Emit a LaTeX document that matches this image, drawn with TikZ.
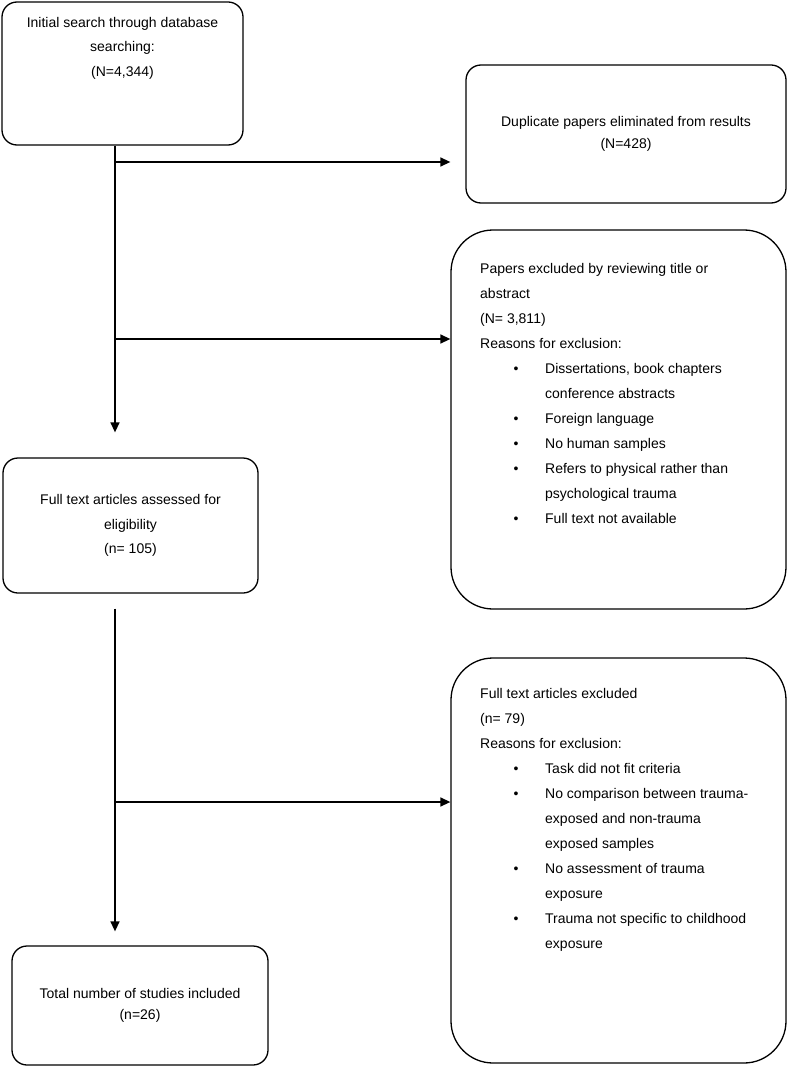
\documentclass[tikz,border=0pt]{standalone}
\usepackage{fontspec}
\setmainfont{Liberation Sans}
\usetikzlibrary{arrows.meta}

% bullet lines inside the exclusion boxes
\newcommand{\bulletline}[1]{\hspace*{33.5pt}\makebox[31.5pt][l]{\textbullet}#1}
\newcommand{\contline}[1]{\hspace*{65pt}#1}

\tikzset{
  flowbox/.style={draw, line width=1.3pt, rounded corners=15pt, inner sep=0pt},
  bigbox/.style={flowbox, rounded corners=42pt},
  flowarrow/.style={line width=1.4pt, -{Triangle[length=10pt,width=9pt]}},
  boxtext/.style={font=\fontsize{14}{24.5}\selectfont, align=center},
  tighttext/.style={font=\fontsize{14}{21.5}\selectfont, align=center},
  listtext/.style={font=\fontsize{14}{25}\selectfont, align=left, inner sep=0pt, anchor=north west}
}

\begin{document}
\begin{tikzpicture}[x=1pt, y=-1pt]

\useasboundingbox (0,0) rectangle (788,1067);

% x position of the main line
\def\trunk{115}
\coordinate (trunkx) at (\trunk,0);

% Left column
\node[flowbox, minimum width=241pt, minimum height=143pt] (init) at (122.5,73.5) {};
\node[boxtext, inner sep=0pt] (inittext) at (122.5,48) {Initial search through database\\searching:\\(N=4,344)};

\node[flowbox, boxtext, minimum width=255pt, minimum height=135pt] (fulltext) at (130.5,525.5)
  {Full text articles assessed for\\eligibility\\(n= 105)};

\node[flowbox, tighttext, minimum width=256pt, minimum height=119pt] (total) at (140,1005.5)
  {Total number of studies included\\(n=26)};

% Right column
\node[flowbox, tighttext, minimum width=320pt, minimum height=138pt] (dup) at (626,134)
  {Duplicate papers eliminated from results\\(N=428)};

\node[bigbox, minimum width=335pt, minimum height=379pt] (papers) at (618.5,419.5) {};
\node[listtext] (paperstext) at (480,263) {Papers excluded by reviewing title or\\abstract\\(N= 3,811)\\Reasons for exclusion:\\
  \bulletline{Dissertations, book chapters}\\\contline{conference abstracts}\\
  \bulletline{Foreign language}\\
  \bulletline{No human samples}\\
  \bulletline{Refers to physical rather than}\\\contline{psychological trauma}\\
  \bulletline{Full text not available}};

\node[bigbox, minimum width=335pt, minimum height=405pt] (excl) at (618.5,860.5) {};
\node[listtext] (excltext) at (480,688) {Full text articles excluded\\(n= 79)\\Reasons for exclusion:\\
  \bulletline{Task did not fit criteria}\\
  \bulletline{No comparison between trauma-}\\\contline{exposed and non-trauma}\\\contline{exposed samples}\\
  \bulletline{No assessment of trauma}\\\contline{exposure}\\
  \bulletline{Trauma not specific to childhood}\\\contline{exposure}};

% Main line
\draw[flowarrow, shorten >=25pt] (init.south -| trunkx) -- (fulltext.north -| trunkx);
\draw[flowarrow, shorten <=15pt, shorten >=14pt] (fulltext.south -| trunkx) -- (total.north -| trunkx);

% Side arrows
\coordinate (branchA) at (\trunk,162);
\draw[flowarrow, shorten >=15pt] (branchA) -- (branchA -| dup.west);
\coordinate (branchB) at (\trunk,339);
\draw[flowarrow] (branchB) -- (branchB -| papers.west);
\coordinate (branchC) at (\trunk,802);
\draw[flowarrow] (branchC) -- (branchC -| excl.west);

\end{tikzpicture}
\end{document}
